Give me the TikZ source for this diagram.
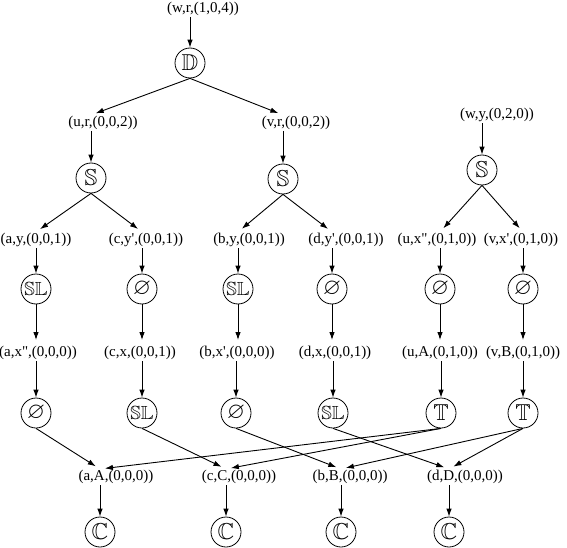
\documentclass[tikz,border=0pt]{standalone}
\usepackage{amssymb}
\usepackage{fontspec}
\setmainfont{Liberation Serif}
\usetikzlibrary{arrows.meta}

\begin{document}
\begin{tikzpicture}[
  x=1pt, y=-1pt,
  >={Latex[length=8pt,width=5.5pt]},
  every node/.style={font=\fontsize{15}{18}\selectfont},
  lbl/.style   = {inner sep=1pt},
  op/.style    = {circle, draw, line width=0.8pt, minimum size=30pt, inner sep=0pt, font=\fontsize{23}{23}\selectfont},
  wideop/.style= {op, inner sep=-3pt, font=\fontsize{19}{19}\selectfont},
  arr/.style   = {->, line width=0.9pt},
  tolbl/.style = {arr, shorten >=5pt},
]
  \useasboundingbox (0,0) rectangle (567,548);

  % top tree
  \node[lbl] (wr) at (203,9)   {(w,r,(1,0,4))};
  \node[op]  (D)  at (190,63)  {$\mathbb{D}$};
  \node[lbl] (ur) at (103,123) {(u,r,(0,0,2))};
  \node[lbl] (vr) at (296,123) {(v,r,(0,0,2))};
  \node[lbl] (wy) at (497,115) {(w,y,(0,2,0))};
  \node[op]  (Su) at (91,178)  {$\mathbb{S}$};
  \node[op]  (Sv) at (283,179) {$\mathbb{S}$};
  \node[op]  (Sw) at (482,170) {$\mathbb{S}$};

  % second level
  \node[lbl] (ay) at (36,240)  {(a,y,(0,0,1))};
  \node[lbl] (cy) at (146,240) {(c,y\textquotesingle,(0,0,1))};
  \node[lbl] (by) at (249,240) {(b,y,(0,0,1))};
  \node[lbl] (dy) at (346,240) {(d,y\textquotesingle,(0,0,1))};
  \node[lbl] (ux) at (437,240) {(u,x\textquotedbl,(0,1,0))};
  \node[lbl] (vx) at (521,240) {(v,x\textquotesingle,(0,1,0))};

  \node[wideop] (SLa) at (36,289)  {$\mathbb{SL}$};
  \node[op]     (Nc)  at (142,289) {$\varnothing$};
  \node[wideop] (SLb) at (238,289) {$\mathbb{SL}$};
  \node[op]     (Nd)  at (332,289) {$\varnothing$};
  \node[op]     (Nu)  at (440,289) {$\varnothing$};
  \node[op]     (Nv)  at (523,289) {$\varnothing$};

  \node[lbl] (ax) at (38,353)  {(a,x\textquotedbl,(0,0,0))};
  \node[lbl] (cx) at (140,353) {(c,x,(0,0,1))};
  \node[lbl] (bx) at (237,353) {(b,x\textquotesingle,(0,0,0))};
  \node[lbl] (dx) at (335,353) {(d,x,(0,0,1))};
  \node[lbl] (uA) at (440,353) {(u,A,(0,1,0))};
  \node[lbl] (vB) at (523,353) {(v,B,(0,1,0))};

  \node[op]     (Na)  at (36,413)  {$\varnothing$};
  \node[wideop] (SLc) at (142,413) {$\mathbb{SL}$};
  \node[op]     (Nb)  at (236,413) {$\varnothing$};
  \node[wideop] (SLd) at (333,413) {$\mathbb{SL}$};
  \node[op]     (Tu)  at (441,413) {$\mathbb{T}$};
  \node[op]     (Tv)  at (523,413) {$\mathbb{T}$};

  % bottom row
  \node[lbl] (aA) at (116,477) {(a,A,(0,0,0))};
  \node[lbl] (cC) at (239,477) {(c,C,(0,0,0))};
  \node[lbl] (bB) at (350,477) {(b,B,(0,0,0))};
  \node[lbl] (dD) at (465,477) {(d,D,(0,0,0))};
  \node[op]  (Ca) at (100,532) {$\mathbb{C}$};
  \node[op]  (Cc) at (226,532) {$\mathbb{C}$};
  \node[op]  (Cb) at (341,532) {$\mathbb{C}$};
  \node[op]  (Cd) at (449,532) {$\mathbb{C}$};

  % connectors
  \draw[arr]   (wr.south -| D) -- (D);
  \draw[tolbl] (D.south) -- (ur.north -| Su);
  \draw[tolbl] (D.south) -- (vr.north -| Sv);
  \draw[arr]   (ur.south -| Su) -- (Su);
  \draw[arr]   (vr.south -| Sv) -- (Sv);
  \draw[arr]   (wy.south -| Sw) -- (Sw);

  \draw[tolbl] (Su.south) -- (ay.north -| SLa);
  \draw[tolbl] (Su.south) -- (cy.north -| Nc);
  \draw[tolbl] (Sv.south) -- (by.north -| SLb);
  \draw[tolbl] (Sv.south) -- (dy.north -| Nd);
  \draw[tolbl] (Sw.south) -- (ux.north -| Nu);
  \draw[tolbl] (Sw.south) -- (vx.north -| Nv);

  \draw[arr] (ay.south -| SLa) -- (SLa);
  \draw[arr] (cy.south -| Nc)  -- (Nc);
  \draw[arr] (by.south -| SLb) -- (SLb);
  \draw[arr] (dy.south -| Nd)  -- (Nd);
  \draw[arr] (ux.south -| Nu)  -- (Nu);
  \draw[arr] (vx.south -| Nv)  -- (Nv);

  \draw[tolbl] (SLa.south) -- (ax.north -| SLa);
  \draw[tolbl] (Nc.south)  -- (cx.north -| Nc);
  \draw[tolbl] (SLb.south) -- (bx.north -| SLb);
  \draw[tolbl] (Nd.south)  -- (dx.north -| Nd);
  \draw[tolbl] (Nu.south)  -- (uA.north -| Nu);
  \draw[tolbl] (Nv.south)  -- (vB.north -| Nv);

  \draw[arr] (ax.south -| Na)  -- (Na);
  \draw[arr] (cx.south -| SLc) -- (SLc);
  \draw[arr] (bx.south -| Nb)  -- (Nb);
  \draw[arr] (dx.south -| SLd) -- (SLd);
  \draw[arr] (uA.south -| Tu)  -- (Tu);
  \draw[arr] (vB.south -| Tv)  -- (Tv);

  \draw[tolbl] (Na.south)  -- (aA.north -| Ca);
  \draw[tolbl] (SLc.south) -- (cC.north -| Cc);
  \draw[tolbl] (Nb.south)  -- (bB.north -| Cb);
  \draw[tolbl] (SLd.south) -- (dD.north -| Cd);
  \draw[tolbl] (Tu.south)  -- (aA.north -| Ca);
  \draw[tolbl] (Tu.south)  -- (cC.north -| Cc);
  \draw[tolbl] (Tv.south)  -- (bB.north -| Cb);
  \draw[tolbl] (Tv.south)  -- (dD.north -| Cd);

  \draw[arr] (aA.south -| Ca) -- (Ca);
  \draw[arr] (cC.south -| Cc) -- (Cc);
  \draw[arr] (bB.south -| Cb) -- (Cb);
  \draw[arr] (dD.south -| Cd) -- (Cd);
\end{tikzpicture}
\end{document}
